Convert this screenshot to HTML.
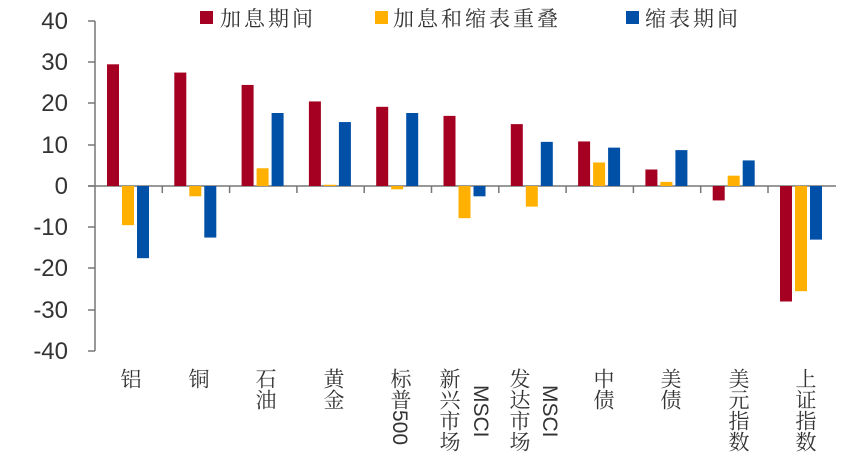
<!DOCTYPE html>
<html><head><meta charset="utf-8"><style>
body{margin:0;background:#fff;width:865px;height:467px;overflow:hidden;position:relative;font-family:"Liberation Sans","Noto Serif CJK SC","Noto Sans CJK SC",sans-serif}
.lab{position:absolute;top:368px;font-size:21px;color:#333;writing-mode:vertical-lr;line-height:24px;font-family:"Liberation Sans","Noto Serif CJK SC",sans-serif}
.leg{position:absolute;top:3px;font-size:21px;letter-spacing:3px;color:#333;font-family:"Noto Serif CJK SC","Noto Sans CJK SC",serif}
.sq{position:absolute;top:11px;width:13px;height:13px}
</style></head><body>
<svg width="865" height="467" style="position:absolute;left:0;top:0">
<g font-family="Liberation Sans, sans-serif" font-size="24" fill="#333" text-anchor="end">
<text x="68" y="29">40</text><text x="68" y="70">30</text><text x="68" y="111">20</text><text x="68" y="153">10</text><text x="68" y="194">0</text><text x="68" y="235">-10</text><text x="68" y="276">-20</text><text x="68" y="318">-30</text><text x="68" y="359">-40</text>
</g>
<g stroke="#777" stroke-width="1.5">
<line x1="95" y1="21" x2="95" y2="351"/>
<line x1="88" y1="21" x2="95" y2="21"/><line x1="88" y1="62" x2="95" y2="62"/><line x1="88" y1="103" x2="95" y2="103"/><line x1="88" y1="145" x2="95" y2="145"/><line x1="88" y1="186" x2="95" y2="186"/><line x1="88" y1="227" x2="95" y2="227"/><line x1="88" y1="268" x2="95" y2="268"/><line x1="88" y1="310" x2="95" y2="310"/><line x1="88" y1="351" x2="95" y2="351"/>
<line x1="88" y1="186" x2="836" y2="186"/>
</g>
<g id="bars"></g>
</svg>
<div class="sq" style="left:200px;background:#a50021"></div><div class="leg" style="left:220px">加息期间</div>
<div class="sq" style="left:375px;background:#ffb000"></div><div class="leg" style="left:393px">加息和缩表重叠</div>
<div class="sq" style="left:626px;background:#0050a8"></div><div class="leg" style="left:645px">缩表期间</div>
<div class="lab" style="left:117px">铝</div>
<div class="lab" style="left:185px">铜</div>
<div class="lab" style="left:252px">石油</div>
<div class="lab" style="left:320px">黄金</div>
<div class="lab" style="left:387px">标普500</div>
<div class="lab" style="left:436px">新兴市场</div><div class="lab" style="left:468px;top:385px">MSCI</div>
<div class="lab" style="left:506px">发达市场</div><div class="lab" style="left:537px;top:385px">MSCI</div>
<div class="lab" style="left:590px">中债</div>
<div class="lab" style="left:657px">美债</div>
<div class="lab" style="left:725px">美元指数</div>
<div class="lab" style="left:792px">上证指数</div>
<script>
var d=[[29.5,-9.5,-17.5],[27.5,-2.5,-12.5],[24.5,4.3,17.7],[20.5,0.3,15.5],[19.2,-0.8,17.7],[17,-7.8,-2.5],[15,-5,10.7],[10.8,5.7,9.3],[4,1,8.7],[-3.5,2.5,6.2],[-28,-25.5,-13]];
var c=["#a50021","#ffb000","#0050a8"],off=[12,27,42],s="";
for(var i=0;i<11;i++){var x0=95+67.3*i;for(var j=0;j<3;j++){var v=d[i][j],h=Math.abs(v)*4.125,y=v>0?186-h:186;s+='<rect x="'+(x0+off[j])+'" y="'+y+'" width="12" height="'+h+'" fill="'+c[j]+'"/>';}
if(i>0)s+='<line x1="'+x0+'" y1="186" x2="'+x0+'" y2="193" stroke="#777" stroke-width="1.5"/>';}
document.getElementById("bars").innerHTML=s;
</script>
</body></html>
